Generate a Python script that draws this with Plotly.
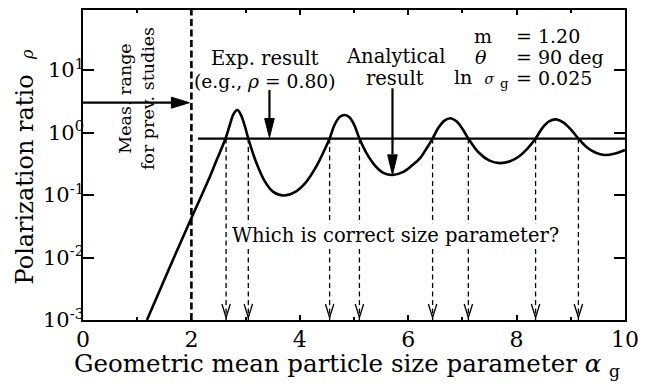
import plotly.graph_objects as go

# Analytical polarization ratio vs. geometric mean size parameter
alpha_g = [1.18, 1.60, 2.00, 2.31, 2.47, 2.63, 2.71, 2.78, 2.85, 2.92, 2.99, 3.05,
           3.20, 3.36, 3.51, 3.70, 3.90, 4.10, 4.30, 4.45, 4.55,
           4.64, 4.74, 4.83, 4.92, 5.01, 5.10,
           5.23, 5.40, 5.55, 5.71, 5.90, 6.08, 6.22, 6.35, 6.45,
           6.56, 6.67, 6.78, 6.89, 7.00, 7.11,
           7.30, 7.50, 7.69, 7.88, 8.05, 8.20, 8.35,
           8.48, 8.60, 8.73, 8.86, 9.00, 9.14,
           9.30, 9.45, 9.62, 9.80, 10.0]
rho = [0.0010, 0.0070, 0.043, 0.17, 0.37, 0.80, 1.33, 2.00, 2.29, 1.86, 1.23, 0.80,
       0.324, 0.162, 0.112, 0.098, 0.110, 0.155, 0.282, 0.513, 0.80,
       1.32, 1.78, 1.91, 1.74, 1.29, 0.80,
       0.468, 0.288, 0.224, 0.209, 0.232, 0.302, 0.389, 0.575, 0.80,
       1.20, 1.55, 1.69, 1.51, 1.15, 0.80,
       0.479, 0.355, 0.324, 0.347, 0.417, 0.550, 0.80,
       1.20, 1.51, 1.62, 1.45, 1.12, 0.80,
       0.575, 0.479, 0.437, 0.457, 0.525]

# Experimental result and the size parameters it is consistent with
rho_exp = 0.80
exp_line_x = [2.12, 10.0]
candidates = [2.64, 3.05, 4.55, 5.10, 6.45, 7.11, 8.35, 9.14]

# Upper limit of the measurement range of previous studies
meas_limit = 2.0
prev_rho = 3.0

# Arrow targets
exp_arrow_alpha = 3.44
analytical_alpha = 5.71
analytical_rho = 0.21

x_ticks = [0, 2, 4, 6, 8, 10]
y_tick_vals = [1e-3, 1e-2, 1e-1, 1, 10]
y_tick_text = ["10<sup>-3</sup>", "10<sup>-2</sup>", "10<sup>-1</sup>",
               "10<sup>0</sup>", "10<sup>1</sup>"]

FONT = "DejaVu Serif"
BLACK = "black"
TXT = 19.5

fig = go.Figure()

fig.add_trace(go.Scatter(
    x=alpha_g, y=rho, mode="lines",
    line=dict(color=BLACK, width=2.6, shape="spline", smoothing=1.0),
    showlegend=False, hoverinfo="skip"))

fig.add_trace(go.Scatter(
    x=exp_line_x, y=[rho_exp, rho_exp], mode="lines",
    line=dict(color=BLACK, width=2.2),
    showlegend=False, hoverinfo="skip"))

shapes = []

# thick dashed boundary of the previous measurement range
shapes.append(dict(type="line", xref="x", yref="paper",
                   x0=meas_limit, x1=meas_limit, y0=0, y1=1,
                   line=dict(color=BLACK, width=2.6, dash="7px,3.5px")))

# arrow from the axis to the range limit
shapes.append(dict(type="line", xref="x", yref="y",
                   x0=0, x1=meas_limit - 0.25, y0=prev_rho, y1=prev_rho,
                   line=dict(color=BLACK, width=2.2)))
shapes.append(dict(type="path", xref="x", yref="y",
                   xsizemode="pixel", ysizemode="pixel",
                   xanchor=meas_limit, yanchor=prev_rho,
                   path="M-20,-5.5 L-2,0 L-20,5.5 Z",
                   fillcolor=BLACK, line=dict(color=BLACK, width=1)))

# dashed drops from the experimental level to each candidate size
for xc in candidates:
    shapes.append(dict(type="line", xref="x", yref="y",
                       x0=xc, x1=xc, y0=rho_exp, y1=1e-3,
                       line=dict(color=BLACK, width=1.3, dash="5px,3.5px")))
    shapes.append(dict(type="path", xref="x", yref="y",
                       xsizemode="pixel", ysizemode="pixel",
                       xanchor=xc, yanchor=1e-3,
                       path="M-4.2,16 L0,2.5 L4.2,16",
                       line=dict(color=BLACK, width=1.3)))

# arrow onto the experimental level
shapes.append(dict(type="line", xref="x", yref="y",
                   x0=exp_arrow_alpha, x1=exp_arrow_alpha, y0=4.8, y1=1.6,
                   line=dict(color=BLACK, width=2.2)))
shapes.append(dict(type="path", xref="x", yref="y",
                   xsizemode="pixel", ysizemode="pixel",
                   xanchor=exp_arrow_alpha, yanchor=rho_exp,
                   path="M-4.8,20 L0,1 L4.8,20 Z",
                   fillcolor=BLACK, line=dict(color=BLACK, width=1)))

# arrow onto the analytical minimum
shapes.append(dict(type="line", xref="x", yref="y",
                   x0=analytical_alpha, x1=analytical_alpha, y0=5.1, y1=0.45,
                   line=dict(color=BLACK, width=2.2)))
shapes.append(dict(type="path", xref="x", yref="y",
                   xsizemode="pixel", ysizemode="pixel",
                   xanchor=analytical_alpha, yanchor=analytical_rho,
                   path="M-4.8,20 L0,0 L4.8,20 Z",
                   fillcolor=BLACK, line=dict(color=BLACK, width=1)))

fig.update_layout(shapes=shapes)


def note(text, x, y, size=TXT, xref="x", yref="y", **kw):
    base = dict(text=text, x=x, y=y, xref=xref, yref=yref, showarrow=False,
                xanchor="center", yanchor="middle",
                font=dict(family=FONT, size=size, color=BLACK))
    base.update(kw)
    fig.add_annotation(**base)


note("Meas. range<br>for prev. studies", 0.98, 0.536, size=17.5,
     textangle=-90)
note("Exp. result", 3.36, 1.19)
note("(e.g., <i>ρ</i> = 0.80)", 3.35, 0.81, size=18.7)
note("Analytical", 5.77, 1.21)
note("result", 5.76, 0.87)
note("Which is correct size parameter?", 5.77, -1.64, bgcolor="white",
     borderpad=0)

# parameter block
PB = 19
note("m", 7.38, 1.544, size=PB)
note("<i>θ</i>", 7.34, 1.208, size=PB)
note("ln&nbsp;&nbsp;<i><span style='font-size:14px'>σ</span></i>&nbsp;<sub>g</sub>",
     7.90, 0.872, size=PB, xanchor="right")
note("= 1.20", 7.95, 1.544, size=PB, xanchor="left")
note("= 90 deg", 7.95, 1.208, size=PB, xanchor="left")
note("= 0.025", 7.95, 0.872, size=PB, xanchor="left")

# axis titles
note("Polarization ratio&nbsp;&nbsp;<i><span style='font-size:16px'>ρ</span></i>",
     -0.107, 0.492, size=24, xref="paper", yref="paper", textangle=-90)
note("Geometric mean particle size parameter <i>α</i> <sub>g</sub>",
     0.487, -0.145, size=24.5, xref="paper", yref="paper")

axis_common = dict(
    showline=True, linecolor=BLACK, linewidth=1.6, mirror="ticks",
    ticks="inside", tickcolor=BLACK, tickwidth=1.5,
    showgrid=False, zeroline=False,
)

fig.update_xaxes(
    **axis_common, range=[0, 10], tickvals=x_ticks, ticklen=5,
    tickfont=dict(family=FONT, size=22, color=BLACK),
    ticklabelstandoff=-1,
    minor=dict(ticks="inside", dtick=1, ticklen=3, tickwidth=1.5, tickcolor=BLACK),
)
fig.update_yaxes(
    **axis_common, type="log", range=[-3, 1.96],
    tickvals=y_tick_vals, ticktext=y_tick_text, ticklen=11,
    tickfont=dict(family=FONT, size=21, color=BLACK),
    ticklabelstandoff=-7,
)

fig.update_layout(
    width=653, height=387,
    margin=dict(l=83, r=28, t=10, b=67, autoexpand=False),
    paper_bgcolor="white", plot_bgcolor="white",
    font=dict(family=FONT, color=BLACK),
)

fig.write_html("out.html")
